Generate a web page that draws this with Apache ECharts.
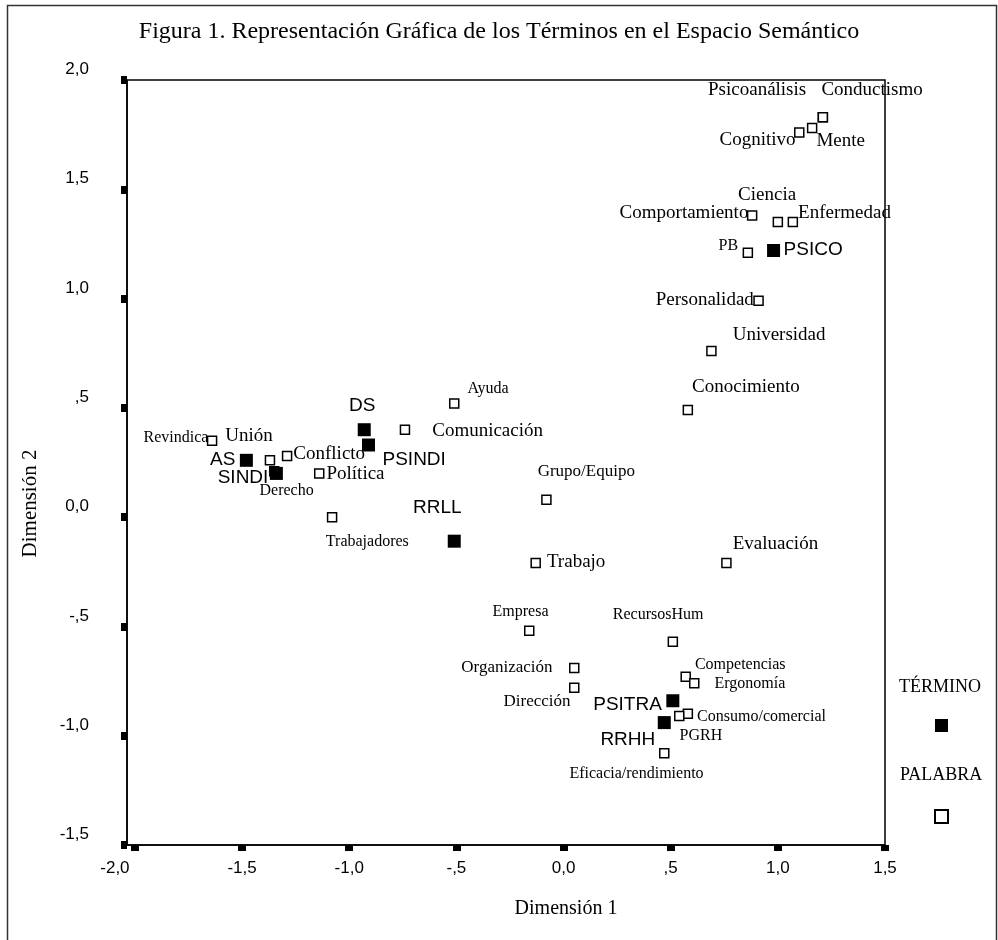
<!DOCTYPE html>
<html>
<head>
<meta charset="utf-8">
<script src="https://cdn.jsdelivr.net/npm/echarts@6/dist/echarts.min.js"></script>
<style>html,body{margin:0;padding:0;background:#fff;}#chart{width:998px;height:940px;}</style>
</head>
<body>
<div id="chart"></div>
<script>
// ---- data ----
const titleText = 'Figura 1. Representación Gráfica de los Términos en el Espacio Semántico';
const xName = 'Dimensión 1';
const yName = 'Dimensión 2';
const xTickValues = [-2, -1.5, -1, -0.5, 0, 0.5, 1, 1.5];
const xTickLabels = ['-2,0', '-1,5', '-1,0', '-,5', '0,0', ',5', '1,0', '1,5'];
const yTickValues = [-1.5, -1, -0.5, 0, 0.5, 1, 1.5, 2];
const yTickLabels = ['-1,5', '-1,0', '-,5', '0,0', ',5', '1,0', '1,5', '2,0'];

const terminoNames = ['PSICO', 'DS', 'PSINDI', 'AS', 'SINDI', 'RRLL', 'PSITRA', 'RRHH'];
const terminoX = [0.98, -0.93, -0.91, -1.48, -1.34, -0.51, 0.51, 0.47];
const terminoY = [1.22, 0.40, 0.33, 0.26, 0.20, -0.11, -0.84, -0.94];

const palabraNames = ['Psicoanálisis', 'Conductismo', 'Mente', 'Cognitivo', 'Comportamiento', 'Ciencia',
  'Enfermedad', 'PB', 'Personalidad', 'Universidad', 'Conocimiento', 'Ayuda', 'Comunicación',
  'Revindica', 'Unión', 'Conflicto', 'Derecho', 'Política', 'Trabajadores', 'Grupo/Equipo',
  'Trabajo', 'Evaluación', 'Empresa', 'RecursosHum', 'Organización', 'Dirección', 'Competencias',
  'Ergonomía', 'Consumo/comercial', 'PGRH', 'Eficacia/rendimiento'];
const palabraX = [1.21, 1.21, 1.16, 1.10, 0.88, 1.00, 1.07, 0.86, 0.91, 0.69, 0.58, -0.51, -0.74,
  -1.64, -1.37, -1.29, -1.35, -1.14, -1.08, -0.08, -0.13, 0.76, -0.16, 0.51, 0.05, 0.05, 0.57,
  0.61, 0.58, 0.54, 0.47];
const palabraY = [1.83, 1.83, 1.78, 1.76, 1.38, 1.35, 1.35, 1.21, 0.99, 0.76, 0.49, 0.52, 0.40,
  0.35, 0.26, 0.28, 0.21, 0.20, 0.00, 0.08, -0.21, -0.21, -0.52, -0.57, -0.69, -0.78, -0.73,
  -0.76, -0.90, -0.91, -1.08];

// ---- label placement (style, kept apart from the data) ----
// name: [align, dx, dy, fontSize]  (dx, dy relative to the marker centre)
const labelPlace = {
  'Psicoanálisis': ['center', -65, -26, 19], 'Conductismo': ['center', 50, -26, 19],
  'Mente': ['left', 5, 14, 19], 'Cognitivo': ['right', -3, 8, 19],
  'Comportamiento': ['right', -3, -2, 19], 'Ciencia': ['center', -10, -26, 19],
  'Enfermedad': ['left', 6, -8, 19], 'PB': ['right', -9, -6, 16],
  'Personalidad': ['right', -4, 0, 19], 'Universidad': ['left', 22, -15, 19],
  'Conocimiento': ['left', 5, -22, 19], 'Ayuda': ['left', 14, -14, 16],
  'Comunicación': ['left', 28, 2, 19], 'Revindica': ['right', -3, -2, 16],
  'Unión': ['left', -44, -24, 19], 'Conflicto': ['left', 7, -1, 19],
  'Derecho': ['left', -14, 20, 16], 'Política': ['left', 8, 1, 19],
  'Trabajadores': ['center', 36, 25, 16], 'Grupo/Equipo': ['left', -8, -27, 17],
  'Trabajo': ['left', 12, 0, 19], 'Evaluación': ['left', 7, -18, 19],
  'Empresa': ['center', -8, -18, 16], 'RecursosHum': ['center', -14, -26, 16],
  'Organización': ['right', -21, 0, 17], 'Dirección': ['right', -3, 15, 17],
  'Competencias': ['left', 10, -11, 16], 'Ergonomía': ['left', 21, 1, 16],
  'Consumo/comercial': ['left', 10, 4, 16], 'PGRH': ['left', 1, 21, 16],
  'Eficacia/rendimiento': ['center', -27, 21, 16],
  'PSICO': ['left', 10, -1, 19], 'DS': ['center', -2, -24, 19], 'PSINDI': ['left', 14, 15, 19],
  'AS': ['right', -11, -1, 19], 'SINDI': ['right', -8, 4, 19], 'RRLL': ['center', -17, -33, 19],
  'PSITRA': ['right', -11, 4, 19], 'RRHH': ['right', -9, 17, 19]
};

const SERIF = '"Liberation Serif", "Times New Roman", serif';
const SANS = '"Liberation Sans", Arial, sans-serif';
const OPEN_SIZE = 9;
const FILLED_SIZE = 13;

function buildData(names, xs, ys, family, size) {
  return names.map((n, i) => {
    const p = labelPlace[n];
    return {
      name: n,
      value: [xs[i], ys[i]],
      label: {
        show: true, formatter: n,
        position: [size / 2 + p[1], size / 2 + p[2]],
        align: p[0], verticalAlign: 'middle',
        fontSize: p[3], fontFamily: family, color: '#000'
      }
    };
  });
}

const chart = echarts.init(document.getElementById('chart'), null, { renderer: 'canvas' });
chart.setOption({
  backgroundColor: '#fff',
  animation: false,
  title: {
    text: titleText, left: 'center', top: 15,
    textStyle: { fontFamily: SERIF, fontSize: 24, fontWeight: 'normal', color: '#000' }
  },
  grid: { left: 127, right: 113, top: 80, bottom: 95, show: true, borderColor: '#000', borderWidth: 1.5, backgroundColor: 'transparent' },
  xAxis: {
    type: 'value', min: -2.037, max: 1.5,
    name: xName, nameLocation: 'middle', nameGap: 54,
    nameTextStyle: { fontFamily: SERIF, fontSize: 20, color: '#000', padding: [0, 0, 0, 120] },
    axisLine: { show: true, onZero: false, lineStyle: { color: '#000', width: 1.5 } },
    axisTick: { show: true, customValues: xTickValues, length: 6, lineStyle: { color: '#000', width: 8 } },
    axisLabel: {
      customValues: xTickValues, margin: 15, fontFamily: SANS, fontSize: 17, color: '#000',
      formatter: v => {
        const i = xTickValues.indexOf(Math.round(v * 10) / 10);
        const s = i >= 0 ? xTickLabels[i] : '';
        return i === 0 ? '{a|' + s + '}' : s;
      },
      rich: { a: { fontFamily: SANS, fontSize: 17, color: '#000', padding: [0, 40, 0, 0] } }
    },
    splitLine: { show: false }
  },
  yAxis: {
    type: 'value', min: -1.5, max: 2.0,
    name: yName, nameLocation: 'middle', nameGap: 86,
    nameTextStyle: { fontFamily: SERIF, fontSize: 21, color: '#000', padding: [0, 82, 0, 0] },
    axisLine: { show: true, onZero: false, lineStyle: { color: '#000', width: 1.5 } },
    axisTick: { show: true, customValues: yTickValues, length: 6, lineStyle: { color: '#000', width: 8 } },
    axisLabel: {
      customValues: yTickValues, margin: 38, fontFamily: SANS, fontSize: 17, color: '#000',
      verticalAlign: 'bottom', padding: [0, 0, 2, 0],
      formatter: v => {
        const i = yTickValues.indexOf(Math.round(v * 10) / 10);
        return i >= 0 ? yTickLabels[i] : '';
      }
    },
    splitLine: { show: false }
  },
  legend: {
    orient: 'vertical', left: 929, top: 714, itemWidth: 13, itemHeight: 13, itemGap: 77,
    icon: 'rect', formatter: () => '', selectedMode: false,
    textStyle: { fontSize: 1 },
    data: ['TÉRMINO', 'PALABRA']
  },
  graphic: [
    { type: 'text', left: 899, top: 678, style: { text: 'TÉRMINO', font: '18px ' + SERIF, fill: '#000' } },
    { type: 'text', left: 900, top: 766, style: { text: 'PALABRA', font: '18px ' + SERIF, fill: '#000' } },
    { type: 'rect', left: 5, top: 3, shape: { width: 989, height: 960 }, style: { fill: 'none', stroke: '#333', lineWidth: 1.5 }, silent: true }
  ],
  series: [
    {
      name: 'PALABRA', type: 'scatter', symbol: 'rect', symbolSize: OPEN_SIZE,
      itemStyle: { color: '#fff', borderColor: '#000', borderWidth: 1.5, opacity: 1 },
      labelLayout: { hideOverlap: false },
      data: buildData(palabraNames, palabraX, palabraY, SERIF, OPEN_SIZE),
      z: 2
    },
    {
      name: 'TÉRMINO', type: 'scatter', symbol: 'rect', symbolSize: FILLED_SIZE,
      itemStyle: { color: '#000', borderColor: '#000', borderWidth: 0, opacity: 1 },
      labelLayout: { hideOverlap: false },
      data: buildData(terminoNames, terminoX, terminoY, SANS, FILLED_SIZE),
      z: 3
    }
  ]
});
</script>
</body>
</html>
